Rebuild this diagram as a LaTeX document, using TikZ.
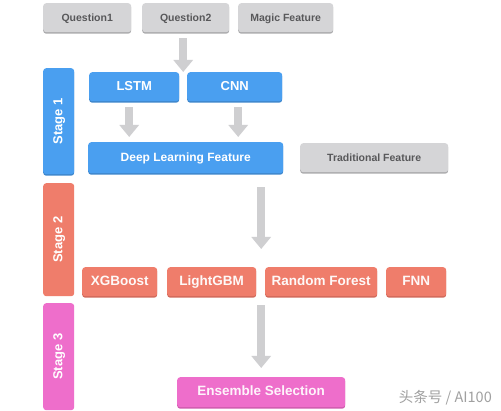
\documentclass[tikz,border=0pt]{standalone}
\usepackage{fontspec}
\setmainfont{Liberation Sans}
\newfontfamily\cjkfont{Noto Sans CJK SC}
\usetikzlibrary{arrows.meta,calc}
\definecolor{gbox}{HTML}{D5D5D7}
\definecolor{gshadow}{HTML}{ABABAD}
\definecolor{gtext}{HTML}{58585A}
\definecolor{bbox}{HTML}{4A9FF0}
\definecolor{bshadow}{HTML}{3E86CC}
\definecolor{obox}{HTML}{EF7D6B}
\definecolor{oshadow}{HTML}{D1695A}
\definecolor{pbox}{HTML}{EE6ECB}
\definecolor{pshadow}{HTML}{D05BAE}
\definecolor{arr}{HTML}{CFCFD1}
\definecolor{wmark}{HTML}{A0A0A0}
\tikzset{
  box/.style={anchor=north west, inner sep=0pt, rounded corners=3pt, font=\bfseries,
     text height=0.92em, text depth=0.2em},
  graybox/.style={box, fill=gbox, text=gtext, font=\fontsize{10.5}{12}\selectfont\bfseries,
     drop shadow={gshadow}},
  bluebox/.style={box, fill=bbox, text=white, font=\fontsize{13}{15}\selectfont\bfseries,
     drop shadow={bshadow}},
  orangebox/.style={box, fill=obox, text=white!95!obox, font=\fontsize{13.5}{15}\selectfont\bfseries,
     drop shadow={oshadow}},
  pinkbox/.style={box, fill=pbox, text=white!92!pbox, font=\fontsize{13.5}{15}\selectfont\bfseries,
     drop shadow={pshadow}},
  drop shadow/.style={preaction={fill=#1, transform canvas={yshift=-1.5pt}}},
  stagelabel/.style={rotate=90, font=\fontsize{13}{15}\selectfont\bfseries, text=white,
     text height=0.92em, text depth=0.2em, inner sep=0pt},
  bigarrow/.style={draw=arr, line width=8pt, -{Triangle[width=19pt,length=12pt]}},
}
\begin{document}
\begin{tikzpicture}[x=1pt,y=-1pt]
\useasboundingbox (0,0) rectangle (501,411);
\fill[white] (0,0) rectangle (501,411);
% inputs
\node[graybox, minimum width=88pt, minimum height=29pt] (q1) at (43,3) {Question1};
\node[graybox, minimum width=87pt, minimum height=29pt] (q2) at (142,3) {Question2};
\node[graybox, minimum width=95pt, minimum height=29pt] (mf) at (238,3) {Magic Feature};
% stage bars
\node[box, fill=bbox, drop shadow={bshadow}, minimum width=31pt, minimum height=106pt] (s1) at (43,68) {};
\node[stagelabel] (s1t) at (s1.center) {Stage 1};
\node[box, fill=obox, minimum width=31pt, minimum height=113pt] (s2) at (43,183) {};
\node[stagelabel] (s2t) at (s2.center) {Stage 2};
\node[box, fill=pbox, minimum width=31pt, minimum height=107pt] (s3) at (43,303) {};
\node[stagelabel] (s3t) at (s3.center) {Stage 3};
% stage 1
\node[bluebox, minimum width=90pt, minimum height=29pt] (lstm) at (89,72) {LSTM};
\node[bluebox, minimum width=95pt, minimum height=29pt] (cnn) at (187,72) {CNN};
\node[bluebox, font=\fontsize{12}{14}\selectfont\bfseries, minimum width=195pt, minimum height=31pt] (dlf) at (88,142) {Deep Learning Feature};
\node[graybox, minimum width=148pt, minimum height=29pt] (tf) at (300,143) {Traditional Feature};
% stage 2
\node[orangebox, minimum width=75pt, minimum height=29pt] (xgb) at (82,267) {XGBoost};
\node[orangebox, minimum width=89pt, minimum height=29pt] (lgbm) at (167,267) {LightGBM};
\node[orangebox, minimum width=112pt, minimum height=29pt] (rf) at (265,267) {Random Forest};
\node[orangebox, minimum width=60pt, minimum height=29pt] (fnn) at (386,267) {FNN};
% stage 3
\node[pinkbox, minimum width=168pt, minimum height=30pt] (ens) at (177,377) {Ensemble Selection};
% watermark
\node[anchor=east, inner sep=0pt, text=wmark, font=\cjkfont\fontsize{14.5}{16}\selectfont] (wm) at (492,398) {头条号 / AI100};
% arrows
\coordinate (j1) at ($(lstm.north east)!0.5!(cnn.north west)$);
\draw[bigarrow, shorten <=6pt] (q2.south -| j1) -- (j1);
\draw[bigarrow, shorten <=6pt, shorten >=5pt] ($(lstm.south)+(-5,0)$) -- ($(lstm.south |- dlf.north)+(-5,0)$);
\draw[bigarrow, shorten <=6pt, shorten >=5pt] ($(cnn.south)+(3.5,0)$) -- ($(cnn.south |- dlf.north)+(3.5,0)$);
\draw[bigarrow, shorten <=14pt, shorten >=18pt] (ens.north |- dlf.south) -- (ens.north |- lgbm.north);
\draw[bigarrow, shorten <=9pt, shorten >=9pt] (ens.north |- lgbm.south) -- (ens.north);
\end{tikzpicture}
\end{document}
